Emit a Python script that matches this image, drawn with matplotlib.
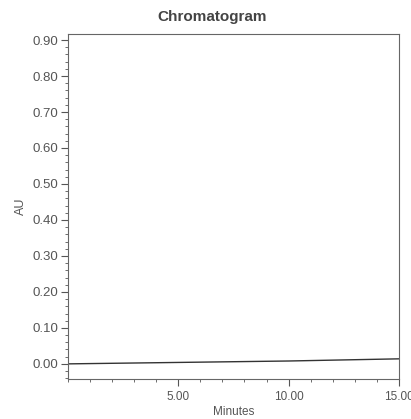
import numpy as np
import matplotlib.pyplot as plt
from matplotlib.ticker import MultipleLocator

# 基线数据（分钟, AU）
minutes = [0.0, 2.5, 5.0, 7.5, 10.0, 12.5, 15.0]
au = [0.000, 0.002, 0.004, 0.006, 0.008, 0.011, 0.014]

x_ticks = [5.0, 10.0, 15.0]
y_ticks = [0.00, 0.10, 0.20, 0.30, 0.40, 0.50, 0.60, 0.70, 0.80, 0.90]

grey = '#555555'
plt.rcParams['font.family'] = ['Liberation Sans', 'DejaVu Sans']

fig = plt.figure(figsize=(4.11, 4.19), dpi=100)
ax = fig.add_axes([0.165, 0.0955, 0.806, 0.8235])

ax.plot(minutes, au, color='#333333', linewidth=1.0)

ax.set_xlim(0, 15)
ax.set_ylim(-0.042, 0.917)
ax.set_xticks(x_ticks)
ax.set_xticklabels([f'{v:.2f}' for v in x_ticks])
ax.set_yticks(y_ticks)
ax.set_yticklabels([f'{v:.2f}' for v in y_ticks])
ax.xaxis.set_minor_locator(MultipleLocator(1))
ax.yaxis.set_minor_locator(MultipleLocator(0.02))

ax.tick_params(axis='both', which='major', direction='out', length=5, width=0.8,
               colors=grey, labelcolor=grey)
ax.tick_params(axis='x', which='major', labelsize=8.5, pad=4)
ax.tick_params(axis='y', which='major', labelsize=9.5, pad=2)
ax.tick_params(axis='both', which='minor', direction='out', length=2.5, width=0.6, colors=grey)
for s in ax.spines.values():
    s.set_color('#666666')
    s.set_linewidth(0.8)

ax.set_xlabel('Minutes', fontsize=8.5, color=grey, labelpad=2)
ax.set_ylabel('AU', fontsize=9, color=grey, labelpad=4)
ax.set_title('Chromatogram', fontsize=11, fontweight='bold', color='#444444',
             x=0.435, pad=9)

fig.savefig('out.png', dpi=100)
